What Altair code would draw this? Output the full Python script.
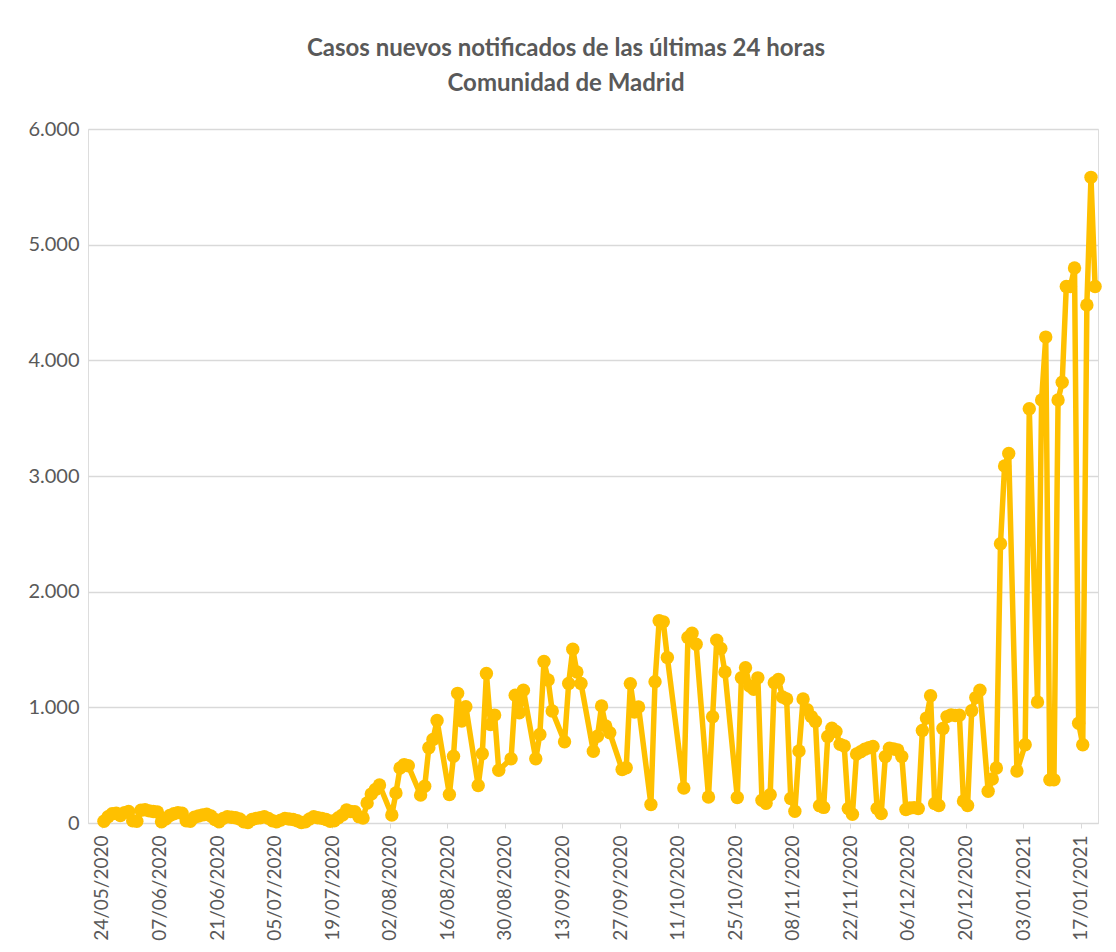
import datetime as dt
import altair as alt
import pandas as pd

# Daily values (Comunidad de Madrid), starting 24/05/2020; None = day without report
start = dt.datetime(2020, 5, 24, 12, 0)

vals_may_jun = [15, 55, 80, 85, 65, 90, 100, 20, 15, 110, 115, 105, 100, 95,
                10, 35, 65, 80, 90, 85, 20, 15, 50, 60, 70, 75, 60, 30,
                10, 40, 55, 50, 45, 35, 10, 5, 30, 40, 45, 55, 40, 20]
vals_jul = [10, 25, 40, 35, 30, 20, 5, 10, 35, 55, 45, 40, 30, 15,
            20, 45, 70, 112, 100, 98, 55, 43, 173, 250, 290, 328, None, None]
vals_aug = [69, 259, 475, 505, 495, None, None, 242, 318, 650, 722, 887, None, None,
            246, 578, 1121, 881, 1006, None, None, 324, 598, 1292, 852, 933, 456, None,
            None, 555, 1104, 953, 1147, None, None]
vals_sep = [555, 766, 1396, 1237, 968, None, None, 702, 1207, 1503, 1306, 1207, None, None,
            621, 750, 1012, 838, 780, None, None, 462, 477, 1205, 960, 1003, None, None]
vals_oct = [159, 1222, 1748, 1739, 1430, None, None, None, 303, 1604, 1641, 1546, None, None,
            225, 919, 1581, 1509, 1306, None, None, 220, 1256, 1343, 1185, 1156, 1255, 197]
vals_nov = [170, 245, 1212, 1241, 1090, 1072, 212, 101, 623, 1072, 980, 920, 878, 150,
            135, 748, 820, 791, 680, 665, 125, 75, 597, 617, 638, 650, 661, 125]
vals_dec = [81, 574, 646, 640, 632, 574, 116, 130, 133, 125, 800, 907, 1101, 168,
            152, 817, 920, 935, 930, 932, 190, 152, 970, 1084, 1148, None, 274, 380,
            475, 2414, 3087, 3194, None]
vals_jan = [449, None, 677, 3582, None, 1046, 3658, 4201, 373, 373, 3658, 3810, 4639, 4639,
            4798, 863, 677, 4479, 5582, 4639]

values = vals_may_jun + vals_jul + vals_aug + vals_sep + vals_oct + vals_nov + vals_dec + vals_jan
dates = [start + dt.timedelta(days=i) for i in range(len(values))]

df = pd.DataFrame({"fecha": dates, "casos": values}).dropna()
df["fecha"] = df["fecha"].dt.strftime("%Y-%m-%dT%H:%M:%S")

tick_dates = ["24/05/2020", "07/06/2020", "21/06/2020", "05/07/2020", "19/07/2020",
              "02/08/2020", "16/08/2020", "30/08/2020", "13/09/2020", "27/09/2020",
              "11/10/2020", "25/10/2020", "08/11/2020", "22/11/2020", "06/12/2020",
              "20/12/2020", "03/01/2021", "17/01/2021"]
tick_values = []
for s in tick_dates:
    d, m, y = s.split("/")
    tick_values.append(alt.DateTime(year=int(y), month=int(m), date=int(d)))

y_ticks = [0, 1000, 2000, 3000, 4000, 5000, 6000]

FONT = "Lato"
GREY = "#595959"
GOLD = "#FFC000"

x_enc = alt.X(
    "fecha:T",
    scale=alt.Scale(domain=[alt.DateTime(year=2020, month=5, date=20, hours=15),
                            alt.DateTime(year=2021, month=1, date=21, hours=5)]),
    axis=alt.Axis(
        title=None, values=tick_values, labelExpr="timeFormat(datum.value, '%d/%m/%Y')",
        labelAngle=-90, labelFont=FONT, labelFontSize=19, labelColor=GREY,
        labelPadding=7, grid=False, domainColor="#d9d9d9", tickColor="#d9d9d9",
        tickSize=5, labelOverlap=False, labelBound=False, labelFlush=False,
    ),
)
y_enc = alt.Y(
    "casos:Q",
    scale=alt.Scale(domain=[0, 6000], nice=False),
    axis=alt.Axis(
        title=None, values=y_ticks,
        labelExpr="replace(format(datum.value, ','), ',', '.')",
        labelFont=FONT, labelFontSize=20, labelColor=GREY, labelPadding=9,
        ticks=False, domain=False, gridColor="#d9d9d9", gridWidth=1.3,
    ),
)

chart = (
    alt.Chart(df)
    .mark_line(color=GOLD, strokeWidth=5.5, strokeJoin="round", strokeCap="round",
               point=alt.OverlayMarkDef(filled=True, size=180, color=GOLD, opacity=1))
    .encode(x=x_enc, y=y_enc)
    .properties(
        width=1010, height=694,
        autosize=alt.AutoSizeParams(type="none"),
        padding={"left": 80, "top": 121, "right": 10, "bottom": 125},
        title=alt.TitleParams(
            text=["Casos nuevos notificados de las últimas 24 horas", "Comunidad de Madrid"],
            font=FONT, fontSize=24, fontWeight="bold", color=GREY,
            anchor="middle", dx=-27, offset=23, lineHeight=35,
        ),
    )
    .configure_view(stroke=None)
    .configure(background="white")
)

chart.save("out.html", embed_options={"renderer": "svg", "actions": False})
